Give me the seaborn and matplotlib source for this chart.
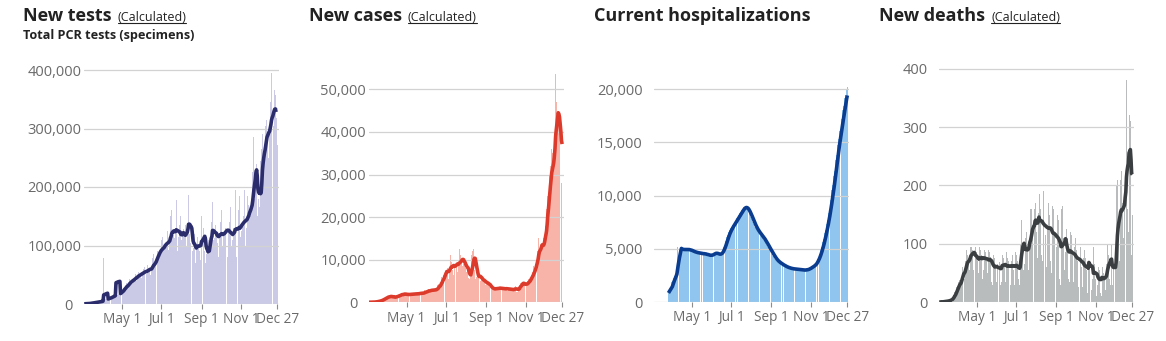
import numpy as np
import pandas as pd
import matplotlib
matplotlib.use("Agg")
import matplotlib.pyplot as plt
import seaborn as sns
from matplotlib.lines import Line2D
from matplotlib.ticker import FuncFormatter
from matplotlib.transforms import ScaledTranslation

sns.set_theme(style="white")
plt.rcParams["font.family"] = ["Open Sans", "DejaVu Sans"]

# ---------------------------------------------------------------- data
# Daily values, one row per week starting Wednesday Mar 4, 2020 (last row: Dec 23-27)
dates = pd.date_range("2020-03-04", "2020-12-27", freq="D")

tests_thousands = [
    0.3, 0.4, 0.5, 0.6, 0.6, 0.8, 0.9,
    1.0, 1.2, 1.4, 1.5, 1.7, 2.0, 2.2,
    2.3, 2.5, 2.7, 2.8, 3.0, 3.2, 3.4,
    3.5, 3.6, 3.8, 4.0, 4.2, 4.5, 4.8,
    6, 7, 78, 7, 8, 9, 8,
    9, 10, 9, 10, 11, 12, 11,
    12, 13, 14, 13, 15, 16, 17,
    166, 17, 16, 18, 17, 19, 18,
    20, 22, 25, 23, 24, 27, 29,
    31, 30, 36, 33, 28, 35, 38,
    42, 38, 44, 40, 35, 41, 43,
    48, 45, 52, 47, 40, 46, 50,
    55, 50, 58, 52, 45, 50, 54,
    60, 55, 64, 56, 48, 52, 57,
    66, 58, 70, 62, 50, 54, 60,
    78, 72, 85, 70, 60, 68, 72,
    98, 90, 105, 88, 78, 85, 86,
    110, 98, 115, 95, 85, 96, 101,
    118, 105, 125, 100, 92, 105, 111,
    150, 125, 160, 115, 95, 118, 112,
    140, 130, 178, 110, 90, 115, 105,
    135, 128, 150, 110, 85, 118, 128,
    128, 118, 135, 120, 100, 130, 165,
    186, 120, 130, 105, 90, 110, 90,
    110, 95, 120, 90, 70, 95, 105,
    115, 100, 118, 90, 75, 100, 150,
    120, 115, 130, 105, 90, 70, 70,
    85, 100, 105, 110, 95, 120, 115,
    140, 125, 175, 110, 90, 112, 105,
    135, 120, 150, 105, 80, 115, 120,
    140, 122, 160, 100, 75, 120, 123,
    150, 130, 170, 110, 80, 120, 122,
    140, 120, 165, 100, 75, 110, 130,
    150, 130, 195, 105, 80, 110, 126,
    160, 140, 185, 115, 90, 125, 137,
    170, 150, 195, 120, 100, 130, 143,
    185, 170, 210, 150, 120, 150, 170,
    210, 225, 285, 220, 180, 200, 255,
    240, 150, 135, 180, 165, 205, 245,
    250, 265, 290, 265, 230, 255, 285,
    305, 315, 340, 285, 250, 275, 295,
    345, 355, 395, 315, 270, 305, 325,
    366, 358, 380, 318, 272,
]

new_cases = [
    10, 15, 20, 25, 30, 40, 50,
    60, 80, 100, 120, 150, 180, 200,
    250, 300, 350, 400, 450, 500, 550,
    700, 800, 900, 1000, 1000, 1100, 1200,
    1300, 1400, 1500, 1300, 1200, 1500, 1400,
    1200, 1300, 1100, 1400, 1200, 1000, 1300,
    1500, 1600, 1400, 1700, 1800, 1400, 1600,
    2000, 1900, 2200, 1800, 1700, 1900, 2100,
    1800, 2000, 1900, 1700, 1600, 1800, 2000,
    1900, 2100, 2000, 1800, 1700, 1900, 2000,
    2000, 2200, 2100, 1900, 1700, 2000, 2100,
    2100, 2300, 2400, 2000, 1800, 2100, 2200,
    2300, 2500, 2800, 2600, 2200, 2400, 2600,
    2700, 3200, 2900, 2800, 2500, 2600, 3000,
    2800, 3300, 3100, 2900, 2600, 2800, 3200,
    3500, 4000, 4200, 4500, 3800, 3600, 5000,
    6000, 5500, 7000, 6500, 5800, 6500, 7500,
    9000, 7500, 8000, 6500, 5500, 8000, 9500,
    11000, 9500, 8000, 7500, 6500, 8500, 8000,
    11500, 10000, 9500, 8000, 7000, 8500, 9500,
    12500, 11000, 10500, 9500, 8500, 9000, 9000,
    10000, 9500, 8000, 7000, 6500, 7500, 8000,
    5800, 5500, 5600, 6000, 11000, 12500, 12000,
    12500, 11000, 7500, 5500, 5000, 6000, 6500,
    7000, 6500, 6000, 5500, 5000, 5000, 5500,
    5500, 5200, 5000, 4800, 4200, 4000, 4500,
    5000, 4500, 4300, 4000, 3500, 3200, 3000,
    3200, 3500, 3400, 3300, 2900, 2800, 3000,
    3400, 3600, 3500, 3300, 3000, 3100, 3400,
    3300, 3500, 3400, 3200, 2800, 3000, 3200,
    3200, 3400, 3600, 3100, 2700, 2900, 3100,
    3000, 3300, 3400, 3000, 2600, 2700, 2900,
    3300, 3500, 3800, 3200, 2500, 2400, 2600,
    3500, 4000, 6000, 4500, 4000, 3500, 4500,
    4500, 4300, 4800, 4200, 3800, 3900, 4500,
    5000, 5500, 6000, 5500, 5000, 5800, 6500,
    7000, 7500, 8500, 8000, 7500, 9000, 10000,
    11000, 12000, 13500, 15000, 12500, 11000, 12000,
    14000, 16000, 13000, 15000, 14000, 15000, 18000,
    20000, 22000, 25000, 30000, 24000, 28000, 30000,
    32000, 33000, 36000, 35000, 30000, 33000, 40000,
    45000, 53500, 47000, 44000, 40000, 42000, 38000,
    40000, 42000, 36000, 28000, 34000,
]

# Hospitalization reporting begins Mar 26
hosp_start = "2020-03-26"
hospitalized = [
    850, 1050, 1250, 1450, 1650, 1850,
    2000, 2150, 2300, 2450, 2600, 2750, 2900,
    3100, 5200, 5150, 5050, 5000, 4950, 4950,
    4950, 4900, 4950, 4950, 4900, 4950, 4950,
    4950, 4900, 4950, 4950, 4900, 4900, 4850,
    4850, 4800, 4800, 4750, 4700, 4700, 4700,
    4650, 4650, 4600, 4600, 4650, 4600, 4600,
    4550, 4600, 4550, 4500, 4550, 4550, 4500,
    4550, 4500, 4500, 4450, 4400, 4400, 4450,
    4400, 4350, 4400, 4350, 4400, 4450, 4500,
    4550, 4600, 4650, 4600, 4600, 4550, 4500,
    4500, 4450, 4450, 4500, 4550, 4600, 4700,
    4800, 4950, 5150, 5350, 5550, 5750, 5950,
    6150, 6300, 6450, 6600, 6750, 6850, 6950,
    7050, 7150, 7250, 7350, 7450, 7550, 7650,
    7750, 7850, 7950, 8050, 8150, 8250, 8350,
    8450, 8550, 8650, 8750, 8850, 8900, 8950,
    8950, 8900, 8850, 8750, 8650, 8550, 8400,
    8250, 8100, 7950, 7800, 7650, 7500, 7350,
    7200, 7050, 6950, 6850, 6750, 6650, 6550,
    6500, 6400, 6300, 6250, 6200, 6100, 6000,
    5950, 5850, 5750, 5600, 5500, 5400, 5300,
    5200, 5100, 4950, 4850, 4750, 4650, 4550,
    4450, 4350, 4250, 4150, 4050, 3950, 3900,
    3850, 3800, 3750, 3700, 3650, 3600, 3550,
    3550, 3500, 3450, 3400, 3400, 3350, 3300,
    3300, 3250, 3250, 3200, 3200, 3200, 3150,
    3150, 3150, 3100, 3100, 3100, 3100, 3100,
    3100, 3100, 3100, 3050, 3050, 3050, 3050,
    3050, 3050, 3000, 3000, 3000, 3000, 3000,
    3000, 3000, 3000, 3050, 3050, 3050, 3100,
    3100, 3150, 3200, 3250, 3300, 3350, 3400,
    3350, 3400, 3500, 3600, 3700, 3800, 3900,
    4050, 4200, 4350, 4550, 4750, 4950, 5150,
    5400, 5650, 5900, 6150, 6450, 6750, 7050,
    7350, 7700, 8050, 8400, 8800, 9200, 9600,
    10050, 10500, 10950, 11400, 11850, 12300, 12800,
    13300, 13800, 14300, 14800, 15300, 15700, 16100,
    16200, 16700, 17200, 17600, 18000, 18400, 18800,
    19200, 19500, 19800, 20000, 20200,
]

new_deaths = [
    0, 0, 0, 1, 0, 1, 0,
    1, 0, 1, 2, 1, 2, 2,
    3, 2, 4, 3, 5, 6, 5,
    10, 12, 15, 18, 16, 22, 25,
    28, 30, 35, 38, 32, 30, 40,
    55, 60, 58, 65, 40, 45, 70,
    90, 85, 80, 75, 50, 55, 95,
    115, 95, 90, 85, 55, 60, 80,
    95, 90, 85, 70, 45, 50, 95,
    92, 90, 80, 75, 40, 55, 98,
    90, 85, 80, 70, 40, 50, 90,
    95, 85, 78, 60, 35, 30, 70,
    80, 75, 70, 65, 35, 30, 65,
    75, 72, 68, 60, 30, 35, 95,
    80, 75, 70, 60, 35, 30, 85,
    75, 80, 70, 55, 35, 30, 90,
    70, 80, 75, 55, 30, 35, 85,
    80, 75, 70, 40, 25, 30, 100,
    150, 140, 120, 95, 55, 45, 65,
    110, 140, 120, 90, 60, 55, 100,
    155, 160, 160, 130, 110, 75, 120,
    160, 218, 170, 120, 85, 75, 152,
    200, 185, 160, 120, 80, 70, 135,
    190, 175, 150, 115, 75, 60, 130,
    185, 170, 150, 120, 70, 50, 110,
    165, 160, 150, 115, 60, 45, 95,
    160, 150, 140, 100, 40, 30, 45,
    160, 165, 145, 110, 55, 40, 85,
    125, 120, 110, 85, 40, 35, 100,
    120, 115, 100, 80, 35, 30, 95,
    110, 100, 90, 70, 30, 25, 90,
    105, 95, 80, 60, 25, 20, 75,
    90, 85, 75, 55, 25, 15, 60,
    160, 70, 60, 45, 20, 15, 40,
    95, 75, 65, 40, 15, 10, 30,
    65, 60, 55, 35, 15, 10, 55,
    60, 55, 50, 40, 20, 20, 65,
    95, 100, 80, 70, 40, 30, 95,
    100, 30, 60, 60, 40, 30, 95,
    160, 200, 210, 150, 100, 70, 140,
    210, 225, 200, 170, 110, 90, 160,
    300, 290, 380, 250, 160, 120, 290,
    320, 310, 260, 80, 150,
]

titles = ["New tests", "New cases", "Current hospitalizations", "New deaths"]
has_calc_note = [True, True, False, True]
calc_note = "(Calculated)"
subtitle = "Total PCR tests (specimens)"

x_tick_dates = ["2020-05-01", "2020-07-01", "2020-09-01", "2020-11-01", "2020-12-27"]
x_tick_labels = ["May 1", "Jul 1", "Sep 1", "Nov 1", "Dec 27"]
y_ticks = [
    [0, 100000, 200000, 300000, 400000],
    [0, 10000, 20000, 30000, 40000, 50000],
    [0, 5000, 10000, 15000, 20000],
    [0, 100, 200, 300, 400],
]

# ---------------------------------------------------------------- series
tests = pd.Series(np.array(tests_thousands) * 1000, index=dates)
cases = pd.Series(new_cases, index=dates, dtype=float)
hosp = pd.Series(hospitalized, index=pd.date_range(hosp_start, periods=len(hospitalized), freq="D"), dtype=float)
deaths = pd.Series(new_deaths, index=dates, dtype=float)
series = [tests, cases, hosp, deaths]

bar_colors = ["#cacae6", "#f9b4aa", "#8fc5ef", "#b8bcbc"]
bar_widths = [0.95, 0.95, 0.88, 0.95]
line_colors = ["#2b2c6c", "#dc3a2b", "#0a3c8f", "#3b3e40"]

# y label spacing from the plot edge (points); zero label nudged in the wide panels
y_label_pad = [1.9, 1.9, 8.0, 8.2]
zero_label_shift_px = [-8.5, -8.0, 0.0, 0.0]

# ---------------------------------------------------------------- layout (pixels)
W, H = 1166, 341
fig = plt.figure(figsize=(W / 100, H / 100), dpi=100)

px_per_day = 0.648
x_lo = pd.Timestamp("2020-03-04") - pd.Timedelta(hours=12)
x_hi = pd.Timestamp("2020-12-27") + pd.Timedelta(days=2, hours=12)
span_days = (x_hi - x_lo) / pd.Timedelta(days=1)
ax_w = span_days * px_per_day

panel_x0 = [84.25, 369.0, 654.2, 939.2]
panel_bottom = [304.0, 302.3, 302.0, 302.0]
top_px = 60.0
px_per_unit = [58.5 / 100000, 42.6 / 10000, 53.2 / 5000, 58.3 / 100]

tick_gray = "#6a6a6a"
grid_gray = "#d2d2d2"

axes = []
for i, s in enumerate(series):
    left = panel_x0[i] - 0.5 * px_per_day
    h = panel_bottom[i] - top_px
    ax = fig.add_axes([left / W, 1 - panel_bottom[i] / H, ax_w / W, h / H])
    ax.bar(s.index, s.values, width=bar_widths[i], color=bar_colors[i], linewidth=0, zorder=1)
    avg = s.rolling(7, min_periods=1).mean()
    sns.lineplot(x=avg.index, y=avg.values, ax=ax, color=line_colors[i],
                 linewidth=2.6, zorder=3, solid_capstyle="butt")
    ax.set_xlim(x_lo, x_hi)
    ax.set_ylim(0, h / px_per_unit[i])
    ax.set_yticks(y_ticks[i])
    ax.yaxis.set_major_formatter(FuncFormatter(lambda v, _: f"{int(round(v)):,}"))
    ax.set_xticks(pd.to_datetime(x_tick_dates))
    ax.set_xticklabels(x_tick_labels)
    ax.set_axisbelow("line")
    ax.grid(axis="y", color=grid_gray, linewidth=0.9)
    ax.grid(axis="x", visible=False)
    for sp in ax.spines.values():
        sp.set_visible(False)
    ax.tick_params(axis="x", length=3.6, width=0.8, color="#8c8c8c", pad=2.5,
                   labelsize=9.8, labelcolor=tick_gray, bottom=True)
    ax.tick_params(axis="y", length=0, pad=y_label_pad[i], labelsize=10.5, labelcolor=tick_gray)
    ax.set_xlabel("")
    ax.set_ylabel("")
    if zero_label_shift_px[i]:
        zl = ax.yaxis.get_major_ticks()[0].label1
        zl.set_transform(zl.get_transform()
                         + ScaledTranslation(zero_label_shift_px[i] / 100, 0, fig.dpi_scale_trans))
    axes.append(ax)

# ---------------------------------------------------------------- titles
title_x = [23, 309, 594, 879]
title_base = 21.0
text_color = "#222222"

fig.canvas.draw()
renderer = fig.canvas.get_renderer()
for i, t in enumerate(titles):
    tt = fig.text(title_x[i] / W, 1 - title_base / H, t, fontsize=13, fontweight="bold",
                  color=text_color, ha="left", va="baseline")
    if has_calc_note[i]:
        bb = tt.get_window_extent(renderer=renderer)
        cx = bb.x1 + 6
        ct = fig.text(cx / W, 1 - title_base / H, calc_note, fontsize=9,
                      color=text_color, ha="left", va="baseline")
        cb = ct.get_window_extent(renderer=renderer)
        uy = (H - title_base - 2.0) / H
        fig.add_artist(Line2D([cb.x0 / W, cb.x1 / W], [uy, uy], color=text_color,
                              linewidth=0.8, transform=fig.transFigure))

fig.text(23 / W, 1 - 39.0 / H, subtitle, fontsize=9.1, fontweight="bold",
         color=text_color, ha="left", va="baseline")

fig.savefig("out.png", dpi=100)
